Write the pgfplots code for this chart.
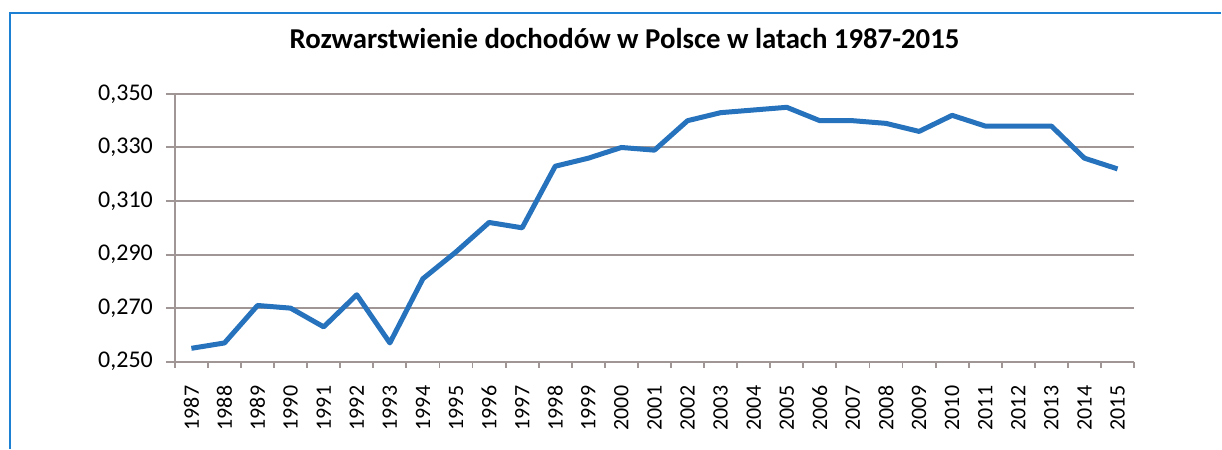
\documentclass[border=0pt]{standalone}
\usepackage{pgfplots}
\pgfplotsset{compat=1.18}
\usepackage{fontspec}
\setmainfont{Carlito}
\definecolor{frameblue}{RGB}{30,128,210}
\definecolor{lineblue}{RGB}{38,114,188}
\definecolor{gridgray}{RGB}{160,150,150}
\begin{document}
\begin{tikzpicture}[x=1pt,y=1pt]
\path (0,0) rectangle (611,224.5);
\draw[color=frameblue, line width=1pt] (5,0) -- (5,218) -- (611,218);
\node[font=\bfseries\fontsize{14.4}{17}\selectfont] at (312.5,205) {Rozwarstwienie dochodów w Polsce w latach 1987-2015};
\begin{axis}[
  at={(87.5pt,43.5pt)}, anchor=south west,
  width=480pt, height=134pt, scale only axis,
  xmin=1986.5, xmax=2015.5, ymin=0.25, ymax=0.35,
  axis x line*=bottom, axis y line*=left,
  axis line style={draw=gridgray, line width=1pt, -},
  ymajorgrids, grid style={draw=gridgray, line width=1pt},
  ytick={0.25,0.27,0.29,0.31,0.33,0.35},
  xtick={1987,1988,...,2015},
  minor xtick={1986.5,1987.5,...,2015.5},
  tick align=outside,
  major tick length=4.5pt, minor tick length=3pt,
  major x tick style={draw=none},
  minor x tick style={draw=gridgray, line width=0.9pt},
  major y tick style={draw=gridgray, line width=1pt},
  /pgf/number format/assume math mode=true,
  yticklabel style={font=\fontsize{12}{14}\selectfont, /pgf/number format/.cd, fixed, fixed zerofill, precision=3, use comma},
  xticklabel style={font=\fontsize{11}{13}\selectfont, rotate=90, anchor=east, /pgf/number format/1000 sep={}},
  xticklabel shift=4pt, yticklabel shift=3pt,
  clip=false,
]
\addplot[color=lineblue, line width=2.5pt, line join=round, mark=none] coordinates {
(1987,0.255) (1988,0.257) (1989,0.271) (1990,0.270) (1991,0.263)
(1992,0.275) (1993,0.257) (1994,0.281) (1995,0.291) (1996,0.302)
(1997,0.300) (1998,0.323) (1999,0.326) (2000,0.330) (2001,0.329)
(2002,0.340) (2003,0.343) (2004,0.344) (2005,0.345) (2006,0.340)
(2007,0.340) (2008,0.339) (2009,0.336) (2010,0.342) (2011,0.338)
(2012,0.338) (2013,0.338) (2014,0.326) (2015,0.322)
};
\end{axis}
\end{tikzpicture}
\end{document}
